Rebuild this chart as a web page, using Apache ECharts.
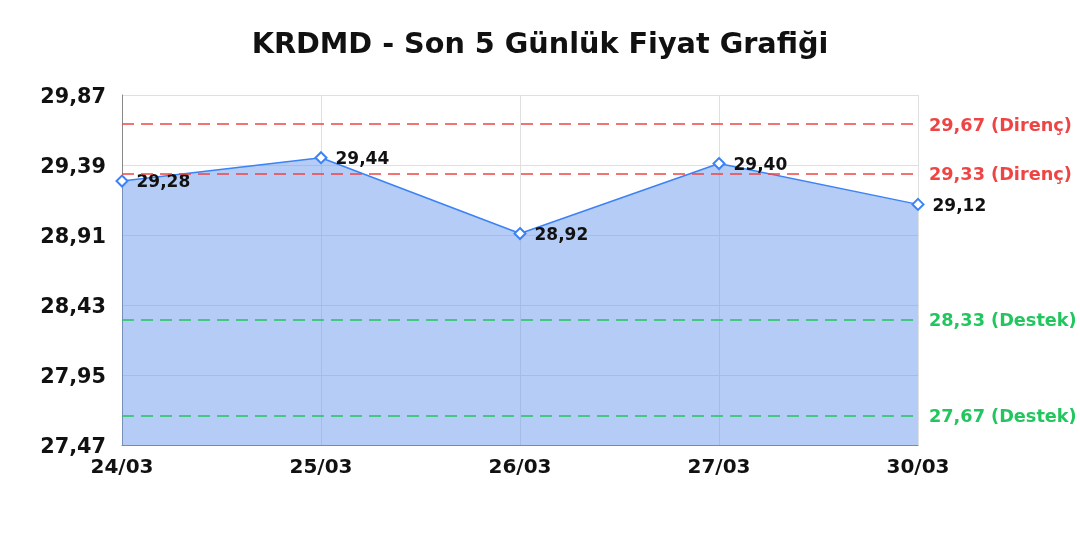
<!DOCTYPE html>
<html><head><meta charset="utf-8">
<script src="https://cdn.jsdelivr.net/npm/echarts@6/dist/echarts.min.js"></script>
<style>html,body{margin:0;padding:0;background:#fff}#c{width:1080px;height:540px}</style>
</head><body><div id="c"></div>
<script>
const categories = ['24/03','25/03','26/03','27/03','30/03'];
const prices = [29.28, 29.44, 28.92, 29.40, 29.12];
const resistance = [29.67, 29.33];
const support = [28.33, 27.67];
const yMin = 27.47, yMax = 29.87, yStep = 0.48;

const fmt = v => v.toFixed(2).replace('.', ',');
const FONT = 'DejaVu Sans';
const RED = '#ef4444', GREEN = '#22c55e';
const chart = echarts.init(document.getElementById('c'));
const lines = [];
resistance.forEach(v => lines.push({yAxis: v, lineStyle:{color:RED}, label:{color:RED, formatter: fmt(v) + ' (Direnç)'}}));
support.forEach(v => lines.push({yAxis: v, lineStyle:{color:GREEN}, label:{color:GREEN, formatter: fmt(v) + ' (Destek)'}}));
chart.setOption({
  animation:false,
  title:{text:'KRDMD - Son 5 Günlük Fiyat Grafiği', left:'center', top:26,
    textStyle:{fontFamily:FONT, fontWeight:'bold', fontSize:28.7, color:'#111'}},
  grid:{left:122, right:162, top:95, bottom:95},
  xAxis:{type:'category', data:categories, boundaryGap:false,
    axisLine:{lineStyle:{color:'#888'}}, axisTick:{show:false},
    splitLine:{show:true, lineStyle:{color:'#e0e0e0'}},
    axisLabel:{fontFamily:FONT, fontWeight:'bold', fontSize:20, color:'#111', margin:13}},
  yAxis:{type:'value', min:yMin, max:yMax, interval:yStep,
    axisLine:{show:true, lineStyle:{color:'#888'}}, axisTick:{show:false},
    splitLine:{lineStyle:{color:'#e0e0e0'}},
    axisLabel:{margin:16, formatter: v => '{v|' + fmt(v) + '}',
      rich:{v:{fontFamily:FONT, fontWeight:'bold', fontSize:20.8, color:'#111', padding:[6,0,0,0]}}}},
  series:[{type:'line', data:prices, symbol:'diamond', symbolSize:11,
    lineStyle:{color:'#3b82f6', width:1.5},
    itemStyle:{color:'#fff', borderColor:'#3b82f6', borderWidth:2},
    areaStyle:{color:'rgba(100,149,237,0.48)', opacity:1},
    label:{show:true, position:'right', distance:8, offset:[0,2], fontFamily:FONT, fontWeight:'bold', fontSize:17, color:'#111', formatter: p => fmt(p.value)},
    markLine:{silent:true, symbol:'none', data:lines,
      lineStyle:{type:[12,7], width:1.5},
      label:{position:'end', distance:11, offset:[0,2], fontFamily:FONT, fontWeight:'bold', fontSize:17.7}}
  }]
});
</script></body></html>
